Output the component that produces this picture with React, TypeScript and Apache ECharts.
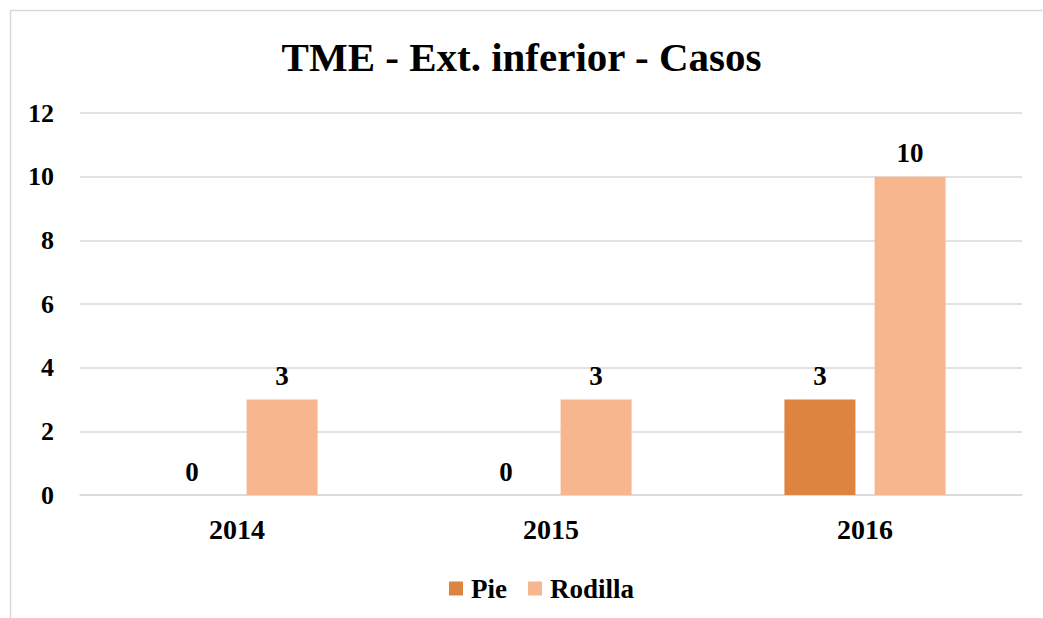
import React, { useEffect, useRef } from "react";
import * as echarts from "echarts";

const categories = ["2014", "2015", "2016"];
const pieValues = [0, 0, 3];
const rodillaValues = [3, 3, 10];
const seriesNames = ["Pie", "Rodilla"];
const titleText = "TME - Ext. inferior - Casos";

const FONT = "'Liberation Serif', 'Times New Roman', serif";

export default function App() {
  const ref = useRef<HTMLDivElement>(null);
  useEffect(() => {
    if (!ref.current) return;
    const chart = echarts.init(ref.current, undefined, { renderer: "svg" });
    const labelStyle = {
      show: true,
      position: "top" as const,
      distance: 10,
      fontFamily: FONT,
      fontWeight: "bold" as const,
      fontSize: 27,
      color: "#000",
    };
    chart.setOption({
      animation: false,
      backgroundColor: "#fff",
      graphic: [
        {
          type: "rect",
          shape: { x: 10.5, y: 10.5, width: 1100, height: 700 },
          style: { fill: "none", stroke: "#d9d9d9", lineWidth: 1.5 },
          silent: true,
        },
      ],
      title: {
        text: titleText,
        left: "center",
        top: 31,
        textStyle: {
          fontFamily: FONT,
          fontWeight: "bold",
          fontSize: 41,
          color: "#000",
        },
      },
      legend: {
        data: seriesNames,
        left: 444,
        top: 570,
        itemWidth: 14,
        itemHeight: 14,
        itemGap: 21,
        icon: "rect",
        textStyle: {
          fontFamily: FONT,
          fontWeight: "bold",
          fontSize: 27,
          color: "#000",
          padding: [0, 0, 0, 3],
        },
      },
      grid: { left: 80, right: 21, top: 113, bottom: 123, containLabel: false },
      xAxis: {
        type: "category",
        data: categories,
        axisLine: { show: true, lineStyle: { color: "#d9d9d9", width: 1.5 } },
        axisTick: { show: false },
        axisLabel: {
          margin: 20,
          fontFamily: FONT,
          fontWeight: "bold",
          fontSize: 28,
          color: "#000",
        },
      },
      yAxis: {
        type: "value",
        min: 0,
        max: 12,
        interval: 2,
        axisLine: { show: false },
        axisTick: { show: false },
        splitLine: { lineStyle: { color: "#d9d9d9", width: 1.5 } },
        axisLabel: {
          margin: 26,
          fontFamily: FONT,
          fontWeight: "bold",
          fontSize: 26,
          color: "#000",
        },
      },
      series: [
        {
          name: seriesNames[0],
          type: "bar",
          data: pieValues,
          barWidth: 71,
          barGap: "27%",
          itemStyle: { color: "#DC8440" },
          label: labelStyle,
        },
        {
          name: seriesNames[1],
          type: "bar",
          data: rodillaValues,
          barWidth: 71,
          barGap: "27%",
          itemStyle: { color: "#F8B68F" },
          label: labelStyle,
        },
      ],
    });
    return () => chart.dispose();
  }, []);
  return (
    <div
      ref={ref}
      style={{ position: "fixed", left: 0, top: 0, width: 1043, height: 618 }}
    />
  );
}
